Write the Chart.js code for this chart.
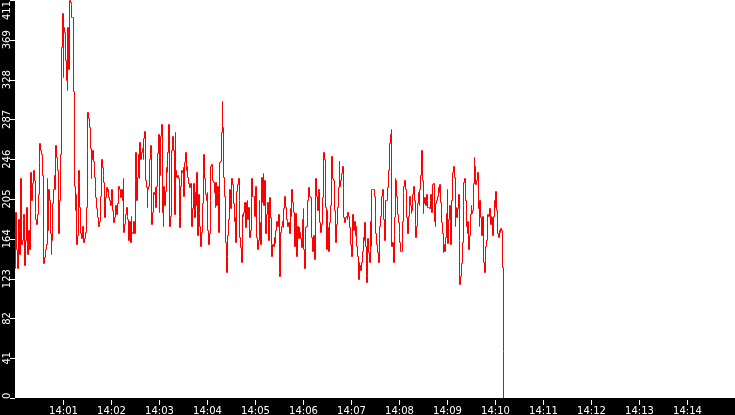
<!DOCTYPE html>
<html>
<head>
<meta charset="utf-8">
<script src="https://cdn.jsdelivr.net/npm/chart.js@4"></script>
<style>
  html, body { margin: 0; padding: 0; background: #000; }
  canvas { display: block; }
</style>
</head>
<body>
<canvas id="c" width="735" height="415"></canvas>
<script>
// ---- data ----
const startTime = '14:00';
const sampleSeconds = 1;
const xSpanSeconds = 900;      // 14:00 .. 14:15
const yMax = 411;
const xTickLabels = ['14:01','14:02','14:03','14:04','14:05','14:06','14:07','14:08','14:09','14:10','14:11','14:12','14:13','14:14'];
const yTickLabels = ['0','41','82','123','164','205','246','287','328','369','411'];
const values = [
  134,192,153,134,184,173,148,227,158,163,184,189,137,163,197,158,148,173,153,233,
  215,204,222,235,225,192,184,179,189,210,243,263,256,251,230,173,139,145,153,158,
  227,173,215,204,170,148,163,201,215,230,215,261,248,235,170,170,204,251,
  362,397,331,383,377,349,328,318,383,339,411,408,406,393,393,316,
  218,194,210,158,168,235,223,197,170,165,177,161,161,165,171,197,256,295,289,279,
  258,227,246,256,244,228,218,207,196,186,177,179,182,208,246,238,230,223,186,207,
  217,213,215,207,204,199,204,215,194,181,186,192,199,189,201,212,218,215,207,215,
  204,227,171,179,189,197,187,184,163,182,161,187,171,170,
  182,170,225,254,204,228,251,227,264,246,254,258,246,268,275,225,217,197,215,218,
  246,261,253,179,192,212,210,217,197,218,253,272,192,230,270,282,192,177,218,199,
  213,238,233,254,282,177,187,227,256,270,256,189,274,235,228,230,227,187,176,218,
  235,233,238,208,243,254,235,239,228,222,217,222,199,177,196,
  222,186,212,199,233,168,210,191,177,156,171,201,233,251,227,210,204,212,173,158,
  170,204,239,241,225,223,212,197,223,199,218,171,212,243,244,274,306,279,228,208,
  161,130,146,168,184,215,196,215,227,220,201,182,186,161,213,220,227,204,166,155,
  140,189,187,192,202,176,202,204,184,197,166,173,207,227,208,
  208,187,217,218,166,153,163,204,181,158,228,202,232,199,225,170,189,189,202,163,
  207,186,158,146,158,156,166,160,173,182,177,189,130,125,171,177,182,176,196,208,
  197,184,182,177,181,170,196,187,215,202,192,156,177,191,146,177,165,176,171,165,
  155,184,196,153,134,176,177,187,204,217,208,207,189,166,151,
  168,143,208,227,208,194,215,213,181,171,179,207,241,254,246,197,153,194,176,151,
  181,199,225,249,227,225,194,165,161,179,197,217,244,218,225,232,239,217,186,181,
  186,187,184,192,187,176,158,150,146,189,173,182,168,177,156,146,122,140,137,132,
  140,151,166,163,181,156,119,127,165,150,140,182,156,215,215,
  215,208,189,170,158,150,140,165,177,187,208,215,208,184,163,204,204,207,217,235,
  263,272,277,156,161,140,186,227,225,208,189,181,171,161,151,151,182,212,218,225,
  215,201,186,170,187,208,199,191,194,210,218,204,179,166,177,201,212,199,215,230,
  256,225,191,201,207,199,210,204,197,197,196,204,210,192,220,
  222,182,177,201,204,208,217,212,220,202,181,170,150,158,151,166,191,215,160,184,
  199,181,158,204,233,239,228,177,197,186,196,210,163,117,125,139,161,199,223,227,
  204,177,170,182,153,168,189,199,191,194,222,248,239,220,225,233,196,177,204,186,
  168,187,166,140,130,156,163,181,189,187,196,179,187,186,168,187,204,197,213,194,
  170,166,173,171,175,173,135,48,0
];

// points on the time axis (seconds after startTime)
const points = values.map((v, i) => ({ x: i * sampleSeconds, y: v }));

function labelSeconds(lbl) {
  const [h0, m0] = startTime.split(':').map(Number);
  const [h, m] = lbl.split(':').map(Number);
  return ((h - h0) * 60 + (m - m0)) * 60;
}

// snap line vertices to pixel centres so the 1px stepped line is crisp
const crispPlugin = {
  id: 'crispPlugin',
  beforeDatasetsDraw(chart) {
    chart.getSortedVisibleDatasetMetas().forEach(meta => {
      meta.data.forEach(el => {
        el.x = Math.floor(el.x) + 0.5;
        el.y = Math.floor(el.y) + 0.5;
      });
    });
  }
};

const axesPlugin = {
  id: 'axesPlugin',
  beforeDraw(chart) {
    const { ctx, chartArea: a } = chart;
    ctx.save();
    ctx.fillStyle = '#000';
    ctx.fillRect(0, 0, chart.width, chart.height);
    ctx.fillStyle = '#fff';
    ctx.fillRect(a.left, a.top, a.right - a.left, a.bottom - a.top);
    ctx.restore();
  },
  afterDraw(chart) {
    const { ctx, chartArea: a, scales } = chart;
    ctx.save();
    ctx.fillStyle = '#fff';
    ctx.font = '10px "DejaVu Sans"';
    // x ticks
    ctx.textAlign = 'center';
    ctx.textBaseline = 'alphabetic';
    xTickLabels.forEach(lbl => {
      const px = Math.round(scales.x.getPixelForValue(labelSeconds(lbl)));
      ctx.fillRect(px, a.bottom + 2, 1, 5);
      ctx.fillText(lbl, px + 0.5, a.bottom + 16);
    });
    // y ticks
    yTickLabels.forEach((lbl, i) => {
      const val = i * yMax / (yTickLabels.length - 1);
      const py = scales.y.getPixelForValue(val);
      const row = Math.min(Math.round(py), a.bottom);
      ctx.fillRect(a.left - 5, row, 5, 1);
      const hw = ctx.measureText(lbl).width / 2;
      const cy = Math.max(hw + 1, Math.min(py, a.bottom + 1 - hw));
      ctx.save();
      ctx.translate(0, cy);
      ctx.rotate(-Math.PI / 2);
      ctx.textAlign = 'center';
      ctx.fillText(lbl, 0, 10);
      ctx.restore();
    });
    ctx.restore();
  }
};

new Chart(document.getElementById('c'), {
  type: 'line',
  data: {
    datasets: [{
      data: points,
      borderColor: '#ff0000',
      borderWidth: 1,
      stepped: true,
      pointRadius: 0,
      fill: false,
      tension: 0
    }]
  },
  options: {
    responsive: false,
    animation: false,
    devicePixelRatio: 1,
    layout: { padding: { left: 15, right: 0, top: 0, bottom: 17 } },
    plugins: { legend: { display: false }, tooltip: { enabled: false } },
    scales: {
      x: { type: 'linear', min: 0, max: xSpanSeconds, display: false },
      y: { type: 'linear', min: 0, max: yMax, display: false }
    }
  },
  plugins: [crispPlugin, axesPlugin]
});
</script>
</body>
</html>
